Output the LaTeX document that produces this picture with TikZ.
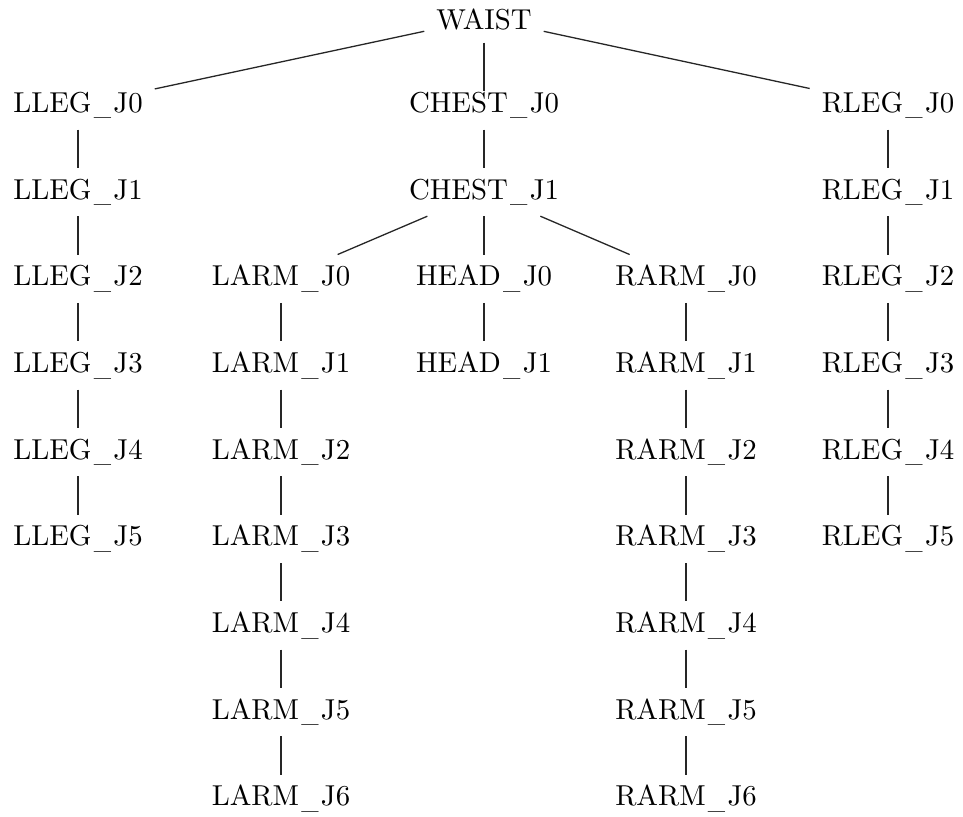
\documentclass[tikz,border=0pt]{standalone}
\usepackage{graphicx}
\newlength\uswd
\newlength\usdp
\newcommand\usc{%
  \settowidth\uswd{\_}\settodepth\usdp{\_}%
  \pgfmathsetmacro\usf{6/\uswd}%
  \kern0.08em\raisebox{\dimexpr\usdp-2.3pt\relax}{\scalebox{\usf}[1]{\_}}\kern0.08em}
\begin{document}
\begin{tikzpicture}[x=0.3472pt,y=-0.3472pt,
  lbl/.style={draw=none,rectangle,inner xsep=4pt,inner ysep=0pt,minimum height=16.4pt,
    text height=6.94pt,text depth=2.08pt,font=\fontsize{10}{12}\selectfont},
  edge/.style={line width=0.45pt,draw=black!85}]
\useasboundingbox (0,0) rectangle (963,816);
\def\rowy#1{105.3+(#1)*86.7}
\node[lbl,text height=7.3pt,text depth=0pt] (waist) at (484,18.5) {WAIST};
\foreach \i in {0,...,5} {
  \node[lbl] (lleg\i) at (78,{\rowy{\i}}) {LLEG\usc J\i};
  \node[lbl] (rleg\i) at (888,{\rowy{\i}}) {RLEG\usc J\i};
}
\foreach \i in {0,1} {
  \node[lbl] (chest\i) at (484,{\rowy{\i}}) {CHEST\usc J\i};
  \node[lbl] (head\i) at (484,{\rowy{\i+2}}) {HEAD\usc J\i};
}
\foreach \i in {0,...,6} {
  \node[lbl] (larm\i) at (281,{\rowy{\i+2}}) {LARM\usc J\i};
  \node[lbl] (rarm\i) at (686,{\rowy{\i+2}}) {RARM\usc J\i};
}
\draw[edge] (waist) -- (lleg0);
\draw[edge] (waist) -- (rleg0);
\draw[edge] (waist) -- ([yshift=5pt]chest0.center);
\draw[edge] (chest0) -- (chest1);
\draw[edge] (chest1) -- (larm0);
\draw[edge] (chest1) -- (head0);
\draw[edge] (chest1) -- (rarm0);
\draw[edge] (head0) -- (head1);
\foreach \i/\j in {0/1,1/2,2/3,3/4,4/5} {
  \draw[edge] (lleg\i) -- (lleg\j);
  \draw[edge] (rleg\i) -- (rleg\j);
}
\foreach \i/\j in {0/1,1/2,2/3,3/4,4/5,5/6} {
  \draw[edge] (larm\i) -- (larm\j);
  \draw[edge] (rarm\i) -- (rarm\j);
}
\end{tikzpicture}
\end{document}
